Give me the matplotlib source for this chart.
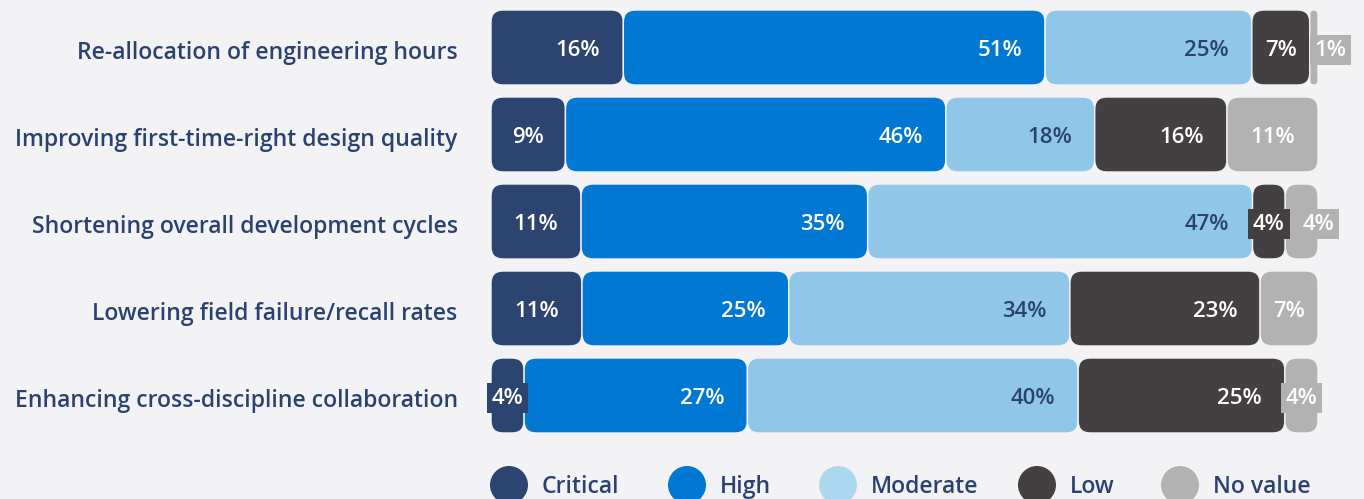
import numpy as np
import matplotlib.pyplot as plt
from matplotlib.patches import FancyBboxPatch, Circle

# data
categories = ["Re-allocation of engineering hours",
              "Improving first-time-right design quality",
              "Shortening overall development cycles",
              "Lowering field failure/recall rates",
              "Enhancing cross-discipline collaboration"]
levels = ["Critical", "High", "Moderate", "Low", "No value"]
critical = [16, 9, 11, 11, 4]
high = [51, 46, 35, 25, 27]
moderate = [25, 18, 47, 34, 40]
low = [7, 16, 4, 23, 25]
no_value = [1, 11, 4, 7, 4]

colors = ["#2c4470", "#0078d4", "#90c7e8", "#444042", "#b2b2b2"]
legend_colors = ["#2c4470", "#0078d4", "#acd8ef", "#444042", "#b2b2b2"]
text_colors = ["white", "white", "#2b4270", "white", "white"]
bg = "#f3f3f6"
navy = "#2b4270"

plt.rcParams['font.family'] = ['Open Sans', 'DejaVu Sans']

W, H = 1364, 499
fig = plt.figure(figsize=(W / 100, H / 100), dpi=100, facecolor=bg)
ax_l, ax_r, ax_t, ax_b = 491, 1318, 4, 439
ax = fig.add_axes([ax_l / W, 1 - ax_b / H, (ax_r - ax_l) / W, (ax_b - ax_t) / H])
ax.set_facecolor(bg)
ax.set_xlim(0, 100)
ax.set_ylim(len(categories) - 0.5, -0.5)
for s in ax.spines.values():
    s.set_visible(False)
ax.set_xticks([])
ax.set_yticks(np.arange(len(categories)) + 0.03)
ax.set_yticklabels(categories, fontsize=16.6, fontweight='semibold', color=navy)
ax.tick_params(axis='y', length=0, pad=24)

# px -> data conversions
xu = 100 / (ax_r - ax_l)
yu = len(categories) / (ax_b - ax_t)
m_aspect = yu / xu
radius = 12 * xu
bar_h = 75 * yu
pad = 23 * xu

data = np.array([critical, high, moderate, low, no_value], dtype=float)
renderer = fig.canvas.get_renderer()

for i in range(len(categories)):
    vals = data[:, i]
    widths = vals / vals.sum() * 100
    lefts = np.concatenate([[0], np.cumsum(widths)[:-1]])
    prev_ext = None
    for j in range(len(levels)):
        x0, w = lefts[j], widths[j]
        r = min(radius, w / 2, bar_h / m_aspect / 2)
        p = FancyBboxPatch((x0, i - bar_h / 2), w, bar_h,
                           boxstyle=f"round,pad=0,rounding_size={r}",
                           mutation_aspect=m_aspect, fc=colors[j],
                           ec=bg, lw=1.0, clip_on=False)
        ax.add_patch(p)

        label = f"{int(vals[j])}%"
        t = ax.text(0, i + 0.03, label, fontsize=16, fontweight='semibold',
                    color=text_colors[j], va='center', ha='center', zorder=5)
        tw = t.get_window_extent(renderer).width * xu
        if w >= tw + 2 * pad:
            t.set_ha('right')
            t.set_x(x0 + w - pad)
        else:
            t.set_x(x0 + w / 2)
            if w < tw + 10 * xu:
                t.set_bbox(dict(boxstyle='square,pad=0.22', fc=colors[j], ec='none'))
        ext = t.get_window_extent(renderer)
        # push a label right when it would run into the previous one
        if prev_ext is not None and ext.x0 < prev_ext.x1 + 18:
            shift = (prev_ext.x1 + 18 - ext.x0) * xu
            t.set_x(t.get_position()[0] + shift)
            ext = t.get_window_extent(renderer)
        prev_ext = ext

# legend drawn in pixel coordinates along the bottom
lax = fig.add_axes([0, 0, 1, 1], facecolor='none')
lax.set_xlim(0, W)
lax.set_ylim(H, 0)
lax.axis('off')
legend_x = [509, 687, 838, 1037, 1180]
for lx, name, c in zip(legend_x, levels, legend_colors):
    lax.add_patch(Circle((lx, 485), 19, fc=c, ec='none'))
    lax.text(lx + 33, 487, name, fontsize=16.6, fontweight='semibold',
             color=navy, va='center', ha='left')

fig.savefig("out.png", dpi=100, facecolor=bg)
